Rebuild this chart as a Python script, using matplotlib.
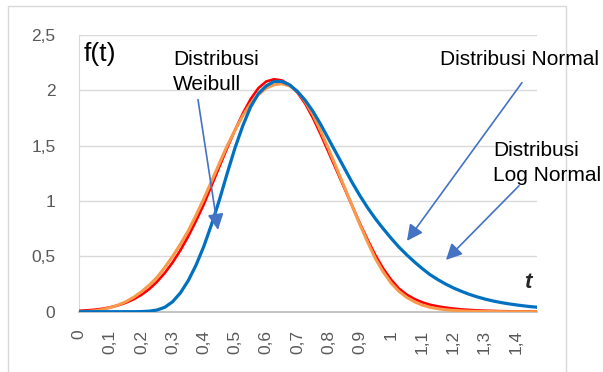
import numpy as np
import matplotlib
matplotlib.use("Agg")
import matplotlib.pyplot as plt
from matplotlib.patches import Rectangle

plt.rcParams['font.family'] = ['Liberation Sans', 'DejaVu Sans']

# t values (category axis, step 0.025) and the three density curves
t = list(np.round(np.arange(0, 1.4501, 0.025), 3)) + [1.465]

f_red = [0.008, 0.012, 0.018, 0.027, 0.040, 0.057, 0.081, 0.112, 0.153, 0.204,
         0.27, 0.35, 0.445, 0.555, 0.68, 0.82, 0.97, 1.14, 1.31, 1.48,
         1.64, 1.79, 1.92, 2.02, 2.08, 2.10, 2.09, 2.05, 1.98, 1.88,
         1.75, 1.60, 1.44, 1.28, 1.12, 0.96, 0.80, 0.65, 0.51, 0.39,
         0.29, 0.21, 0.155, 0.115, 0.085, 0.063, 0.048, 0.037, 0.028, 0.021,
         0.016, 0.012, 0.009, 0.007, 0.005, 0.004, 0.003, 0.003, 0.002, 0.002]

f_orange = [0.0, 0.002, 0.008, 0.02, 0.037, 0.06, 0.09, 0.13, 0.18, 0.24,
            0.31, 0.40, 0.50, 0.61, 0.73, 0.87, 1.02, 1.18, 1.34, 1.50,
            1.64, 1.77, 1.88, 1.96, 2.02, 2.05, 2.06, 2.04, 1.99, 1.90,
            1.78, 1.63, 1.47, 1.30, 1.13, 0.96, 0.79, 0.63, 0.48, 0.36,
            0.26, 0.185, 0.13, 0.09, 0.06, 0.04, 0.027, 0.018, 0.012, 0.008,
            0.005, 0.003, 0.002, 0.001, 0.001, 0.0, 0.0, 0.0, 0.0, 0.0]

f_blue = [0.0, 0.0, 0.0, 0.0, 0.0, 0.0, 0.0, 0.0, 0.001, 0.005,
          0.015, 0.04, 0.09, 0.17, 0.28, 0.42, 0.59, 0.79, 1.01, 1.25,
          1.48, 1.68, 1.85, 1.97, 2.04, 2.08, 2.08, 2.05, 1.99, 1.91,
          1.81, 1.69, 1.56, 1.43, 1.30, 1.17, 1.05, 0.94, 0.84, 0.75,
          0.665, 0.585, 0.515, 0.45, 0.39, 0.335, 0.29, 0.25, 0.215, 0.185,
          0.158, 0.135, 0.115, 0.098, 0.084, 0.072, 0.062, 0.053, 0.045, 0.041]

x_ticks = [0, 0.1, 0.2, 0.3, 0.4, 0.5, 0.6, 0.7, 0.8, 0.9, 1.0, 1.1, 1.2, 1.3, 1.4]
x_labels = ["0", "0,1", "0,2", "0,3", "0,4", "0,5", "0,6", "0,7", "0,8", "0,9",
            "1", "1,1", "1,2", "1,3", "1,4"]
y_ticks = [0, 0.5, 1, 1.5, 2, 2.5]
y_labels = ["0", "0,5", "1", "1,5", "2", "2,5"]

W, H = 603, 372
fig = plt.figure(figsize=(W / 100, H / 100), dpi=100)

# chart frame (light grey border, open at the bottom)
fig.patches.append(Rectangle((8 / W, -0.05), (566 - 8) / W, 1.05 - 6 / H,
                             transform=fig.transFigure, fill=False,
                             ec='#d9d9d9', lw=1))

ax = fig.add_axes([79 / W, 60.3 / H, 458 / W, 276.7 / H])
ax.set_xlim(0, 1.468)
ax.set_ylim(0, 2.5)

ax.plot(t, f_red, color='#ff0000', lw=1.9, zorder=3)
ax.plot(t, f_orange, color='#f79a4c', lw=2.2, zorder=4)
ax.plot(t, f_blue, color='#0070c0', lw=2.3, zorder=5)

ax.set_yticks(y_ticks)
ax.set_yticklabels(y_labels)
ax.set_xticks(x_ticks)
ax.set_xticklabels(x_labels, rotation=90)
ax.tick_params(axis='y', length=0, pad=17, labelsize=12.5, labelcolor='#595959')
ax.tick_params(axis='x', length=0, pad=13, labelsize=12.5, labelcolor='#595959')
ax.grid(axis='y', color='#d9d9d9', lw=1)
ax.set_axisbelow(True)
for s in ['top', 'right']:
    ax.spines[s].set_visible(False)
ax.spines['left'].set_color('#d9d9d9')
ax.spines['bottom'].set_color('#bfbfbf')
ax.spines['bottom'].set_linewidth(1.3)


def px(x, y):
    # pixel position in the picture -> data coordinates
    return ((x - 79) / 312, (311.7 - y) / 110.5)


fig.text(84 / W, 1 - 42 / H, "f(t)", fontsize=19, va='top', ha='left')
fig.text(173 / W, 1 - 50 / H, "Distribusi\nWeibull", fontsize=15,
         va='top', ha='left', linespacing=1.38)
fig.text(440 / W, 1 - 50 / H, "Distribusi Normal", fontsize=15,
         va='top', ha='left')
fig.text(493 / W, 1 - 141 / H, "Distribusi\nLog Normal", fontsize=15,
         va='top', ha='left', linespacing=1.38)
fig.text(528 / W, 1 - 283 / H, "t", fontsize=16, fontweight='bold',
         fontstyle='italic', color='#262626', va='center', ha='center')

arrow = dict(arrowstyle='-|>', mutation_scale=24, lw=1.2, color='#4472c4',
             shrinkA=0, shrinkB=0)
for start, tip in [((198, 100), (218, 230)),
                   ((522, 83), (407, 241)),
                   ((519, 186), (446, 260))]:
    ax.annotate('', xy=px(*tip), xytext=px(*start), arrowprops=arrow,
                annotation_clip=False, zorder=6)

fig.savefig('out.png', dpi=100)
